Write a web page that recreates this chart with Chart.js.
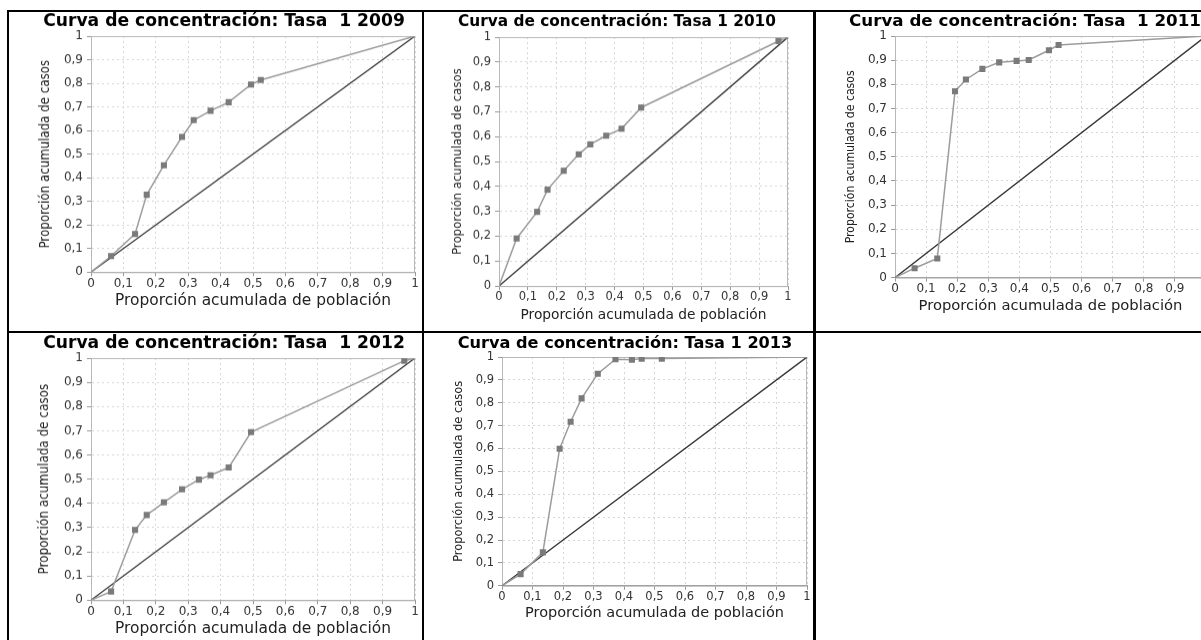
<!DOCTYPE html>
<html>
<head>
<meta charset="utf-8">
<script src="https://cdn.jsdelivr.net/npm/chart.js@4.4.1/dist/chart.umd.min.js"></script>
<style>
  html, body { margin: 0; padding: 0; background: #fff; width: 1201px; height: 640px; overflow: hidden; }
  .ln { position: absolute; background: #000; }
  canvas { position: absolute; }
</style>
</head>
<body>
<div class="ln" style="left:7px;top:10px;width:1194px;height:2px"></div>
<div class="ln" style="left:7px;top:331px;width:1194px;height:2px"></div>
<div class="ln" style="left:7px;top:10px;width:2px;height:630px"></div>
<div class="ln" style="left:422px;top:10px;width:2px;height:630px"></div>
<div class="ln" style="left:813px;top:10px;width:3px;height:630px"></div>
<canvas id="c0"></canvas>
<canvas id="c1"></canvas>
<canvas id="c2"></canvas>
<canvas id="c3"></canvas>
<canvas id="c4"></canvas>
<script>
// ---------- data ----------
const tickLabels = ['0', '0,1', '0,2', '0,3', '0,4', '0,5', '0,6', '0,7', '0,8', '0,9', '1'];
const chartTitles = [
  'Curva de concentración: Tasa  1 2009',
  'Curva de concentración: Tasa 1 2010',
  'Curva de concentración: Tasa  1 2011',
  'Curva de concentración: Tasa  1 2012',
  'Curva de concentración: Tasa 1 2013'
];
const xAxisTitle = 'Proporción acumulada de población';
const yAxisTitle = 'Proporción acumulada de casos';
const equalityX = [0, 1];
const equalityY = [0, 1];

const pob2009 = [0, 0.062, 0.136, 0.172, 0.225, 0.281, 0.317, 0.369, 0.425, 0.494, 0.524, 1];
const casos2009 = [0, 0.068, 0.162, 0.328, 0.453, 0.573, 0.644, 0.684, 0.720, 0.795, 0.814, 1];

const pob2010 = [0, 0.061, 0.132, 0.168, 0.224, 0.276, 0.316, 0.371, 0.424, 0.492, 0.967, 1];
const casos2010 = [0, 0.191, 0.298, 0.387, 0.463, 0.529, 0.569, 0.604, 0.632, 0.717, 0.984, 1];

const pob2011 = [0, 0.063, 0.136, 0.193, 0.228, 0.281, 0.335, 0.391, 0.430, 0.495, 0.526, 1];
const casos2011 = [0, 0.039, 0.079, 0.771, 0.820, 0.864, 0.891, 0.897, 0.901, 0.941, 0.963, 1];

const pob2012 = [0, 0.062, 0.136, 0.172, 0.225, 0.281, 0.333, 0.369, 0.425, 0.494, 0.967, 1];
const casos2012 = [0, 0.036, 0.290, 0.352, 0.404, 0.458, 0.498, 0.516, 0.548, 0.694, 0.989, 1];

const pob2013 = [0, 0.061, 0.134, 0.189, 0.225, 0.261, 0.314, 0.372, 0.426, 0.458, 0.524, 1];
const casos2013 = [0, 0.051, 0.146, 0.599, 0.717, 0.819, 0.927, 0.990, 0.988, 0.993, 0.993, 1];

const seriesX = [pob2009, pob2010, pob2011, pob2012, pob2013];
const seriesY = [casos2009, casos2010, casos2011, casos2012, casos2013];

// ---------- layout (panel geometry, px) ----------
const panels = [
  {cl: 9,   ct: 12,  cr: 422,  L: 91,  T: 36,  R: 415,  B: 272, tCX: 224,  tCY: 21.5, tW: 362, yCX: 46,  yW: 188, xCY: 301, xW: 276, tick: 12},
  {cl: 424, ct: 12,  cr: 813,  L: 499, T: 37,  R: 788,  B: 286, tCX: 617,  tCY: 22.5, tW: 318, yCX: 458, yW: 186, xCY: 315, xW: 246, tick: 11.5},
  {cl: 816, ct: 12,  cr: 1214, L: 895, T: 36,  R: 1206, B: 278, tCX: 1025, tCY: 21.5, tW: 352, yCX: 851, yW: 173, xCY: 307, xW: 264, tick: 12},
  {cl: 9,   ct: 333, cr: 422,  L: 91,  T: 358, R: 415,  B: 600, tCX: 224,  tCY: 344,  tW: 362, yCX: 45,  yW: 190, xCY: 629, xW: 276, tick: 12},
  {cl: 424, ct: 333, cr: 813,  L: 502, T: 357, R: 807,  B: 586, tCX: 625,  tCY: 344,  tW: 335, yCX: 459, yW: 181, xCY: 613, xW: 259, tick: 11.5}
];

const TITLE_FAMILY = '"DejaVu Sans", "Noto Sans", sans-serif';
const TICK_FAMILY = '"DejaVu Sans", "Noto Sans", sans-serif';
const XT_FAMILY = '"DejaVu Sans", "Noto Sans", sans-serif';
const YT_FAMILY = '"DejaVu Sans Condensed", "Liberation Sans Narrow", "Liberation Sans", Arial, sans-serif';

const mctx = document.createElement('canvas').getContext('2d');
function fitSize(text, family, weight, target) {
  mctx.font = weight + ' 100px ' + family;
  return 100 * target / mctx.measureText(text).width;
}

const plotFrame = {
  id: 'plotFrame',
  beforeDatasetsDraw(chart) {
    const a = chart.chartArea, c = chart.ctx;
    c.save();
    c.strokeStyle = '#b8b8b8';
    c.lineWidth = 1;
    c.strokeRect(a.left + 0.5, a.top + 0.5, a.right - a.left - 1, a.bottom - a.top);
    c.restore();
  }
};

Chart.defaults.animation = false;

panels.forEach((p, i) => {
  const cv = document.getElementById('c' + i);
  const titleSize = fitSize(chartTitles[i], TITLE_FAMILY, 'bold', p.tW);
  const xtSize = fitSize(xAxisTitle, XT_FAMILY, 'normal', p.xW);
  const ytSize = fitSize(yAxisTitle, YT_FAMILY, 'normal', p.yW);

  const padL = 2 * p.tCX - p.R - p.cl;
  const padR = p.cr - p.R;
  const titleLH = titleSize * 1.2;
  const titlePadTop = p.tCY - p.ct - titleLH / 2;
  const titlePadBottom = p.T - p.ct - titleLH - titlePadTop;
  const yAxisWidth = p.L - (p.cl + padL);
  const yTitlePadTop = p.yCX - (p.cl + padL) - ytSize / 2;
  const xTitlePadBottom = 2;
  const xAxisHeight = p.xCY - p.B + xtSize / 2 + xTitlePadBottom;
  const cw = p.cr - p.cl;
  const ch = p.B + xAxisHeight - p.ct;

  cv.width = cw; cv.height = ch;
  cv.style.left = p.cl + 'px'; cv.style.top = p.ct + 'px';
  cv.style.width = cw + 'px'; cv.style.height = ch + 'px';

  const curve = seriesX[i].map((x, k) => ({x: x, y: seriesY[i][k]}));
  const diag = equalityX.map((x, k) => ({x: x, y: equalityY[k]}));
  const last = curve.length - 1;

  new Chart(cv, {
    type: 'scatter',
    data: {
      datasets: [
        {
          data: curve,
          showLine: true,
          borderColor: '#9c9c9c',
          borderWidth: 1.5,
          pointStyle: 'rect',
          pointBackgroundColor: '#7a7a7a',
          pointBorderColor: '#7a7a7a',
          pointBorderWidth: 0,
          pointRadius: (c) => (c.dataIndex === 0 || c.dataIndex === last) ? 0 : 4.3,
          tension: 0,
          order: 0
        },
        {
          data: diag,
          showLine: true,
          borderColor: '#3a3a3a',
          borderWidth: 1.4,
          pointRadius: 0,
          tension: 0,
          order: 1
        }
      ]
    },
    options: {
      responsive: false,
      devicePixelRatio: 1,
      animation: false,
      events: [],
      layout: {padding: {left: padL, right: padR, top: 0, bottom: 0}},
      plugins: {
        legend: {display: false},
        tooltip: {enabled: false},
        title: {
          display: true,
          text: chartTitles[i],
          color: '#000',
          font: {family: TITLE_FAMILY, size: titleSize, weight: 'bold', lineHeight: 1.2},
          padding: {top: titlePadTop, bottom: titlePadBottom}
        }
      },
      scales: {
        x: {
          type: 'linear', min: 0, max: 1,
          afterFit: (s) => { s.height = xAxisHeight; s.paddingLeft = 0; s.paddingRight = 0; },
          ticks: {
            stepSize: 0.1, autoSkip: false, maxRotation: 0, padding: 0,
            color: '#333',
            font: {family: TICK_FAMILY, size: p.tick},
            callback: (v, k) => tickLabels[k]
          },
          grid: {color: '#d6d6d6', lineWidth: 1, tickLength: 4, tickColor: '#999', drawTicks: true},
          border: {display: true, color: '#999', width: 1, dash: [2, 3]},
          title: {
            display: true, text: xAxisTitle, color: '#222',
            font: {family: XT_FAMILY, size: xtSize, lineHeight: 1},
            padding: {top: 0, bottom: xTitlePadBottom}
          }
        },
        y: {
          type: 'linear', min: 0, max: 1,
          afterFit: (s) => { s.width = yAxisWidth; s.paddingTop = 0; s.paddingBottom = 0; },
          ticks: {
            stepSize: 0.1, autoSkip: false, padding: 4,
            color: '#333',
            font: {family: TICK_FAMILY, size: p.tick},
            callback: (v, k) => tickLabels[k]
          },
          grid: {color: '#d6d6d6', lineWidth: 1, tickLength: 4, tickColor: '#999', drawTicks: true},
          border: {display: true, color: '#999', width: 1, dash: [2, 3]},
          title: {
            display: true, text: yAxisTitle, color: '#222',
            font: {family: YT_FAMILY, size: ytSize, lineHeight: 1},
            padding: {top: yTitlePadTop, bottom: 0}
          }
        }
      }
    },
    plugins: [plotFrame]
  });
});
</script>
</body>
</html>
